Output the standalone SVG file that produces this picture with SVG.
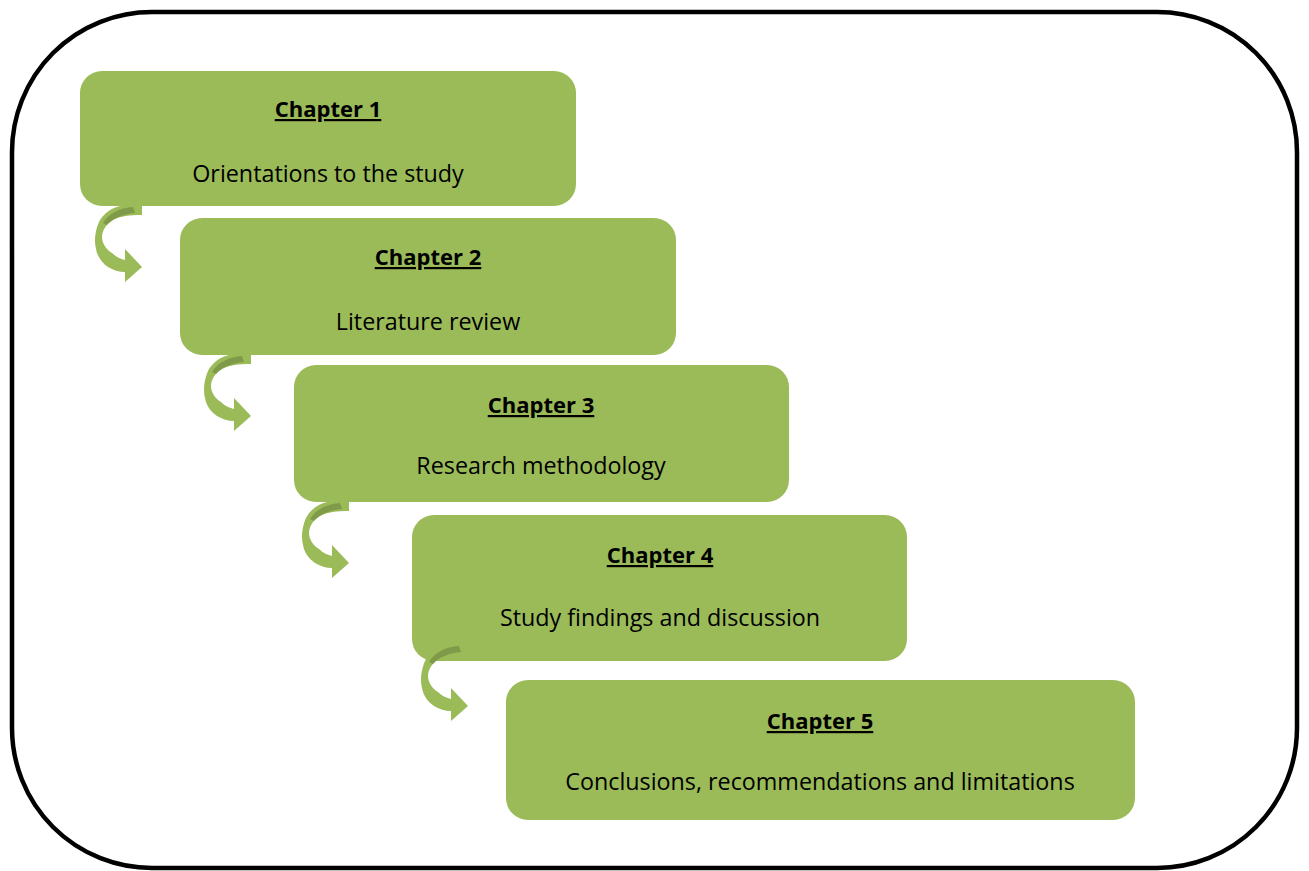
<svg xmlns="http://www.w3.org/2000/svg" width="1309" height="871" viewBox="0 0 1309 871">
<style>
.box{fill:#9BBB59;}
.t{font-family:"Open Sans","Liberation Sans",sans-serif;font-size:23.3px;fill:#000;text-anchor:middle;font-variant-ligatures:none;}
.h{font-size:22px;font-weight:bold;text-decoration:underline;}
.arr{fill:#9BBB59;}
.dk{fill:#7F9A48;}
</style>
<defs>
<g id="curvedArrow">
<path class="arr" d="M0,-62 L0,-52 C-12,-52 -22,-51 -29,-47 C-36,-43 -40,-36 -40,-30 C-40,-23 -35,-17 -30,-14 C-26,-10 -21,-8 -17,-7 L-17,-18 L0,0 L-17,15 L-17,5 C-23,5 -29,3 -34,0 C-40,-4 -45,-11 -46,-18 C-48,-26 -47,-36 -43,-45 C-39,-53 -31,-59 -22,-61 C-15,-62 -7,-62 0,-62 Z"/>
<path class="dk" d="M-39,-44 C-33,-54 -22,-59 -9,-60 L-7,-54 C-20,-53 -30,-48 -35,-42 Z"/>
</g>
</defs>
<rect x="12" y="12" width="1285" height="856" rx="140" ry="140" fill="#fff" stroke="#000" stroke-width="4.5"/>
<g id="node1">
<rect class="box" x="80" y="71" width="496" height="135" rx="22"/>
<text class="t h" x="328" y="117">Chapter 1</text>
<text class="t" x="328" y="182">Orientations to the study</text>
</g>
<g id="node2">
<rect class="box" x="180" y="218" width="496" height="137" rx="22"/>
<text class="t h" x="428" y="265">Chapter 2</text>
<text class="t" x="428" y="330">Literature review</text>
</g>
<g id="node3">
<rect class="box" x="294" y="365" width="495" height="137" rx="22"/>
<text class="t h" x="541" y="413">Chapter 3</text>
<text class="t" x="541" y="474">Research methodology</text>
</g>
<g id="node4">
<rect class="box" x="412" y="515" width="495" height="146" rx="22"/>
<text class="t h" x="660" y="563">Chapter 4</text>
<text class="t" x="660" y="626">Study findings and discussion</text>
</g>
<g id="node5">
<rect class="box" x="506" y="680" width="629" height="140" rx="22"/>
<text class="t h" x="820" y="729">Chapter 5</text>
<text class="t" x="820" y="790">Conclusions, recommendations and limitations</text>
</g>
<g id="connectors">
<use href="#curvedArrow" transform="translate(142,267)"/>
<use href="#curvedArrow" transform="translate(251,416)"/>
<use href="#curvedArrow" transform="translate(349,563)"/>
<use href="#curvedArrow" transform="translate(468,706)"/>
</g>
</svg>
